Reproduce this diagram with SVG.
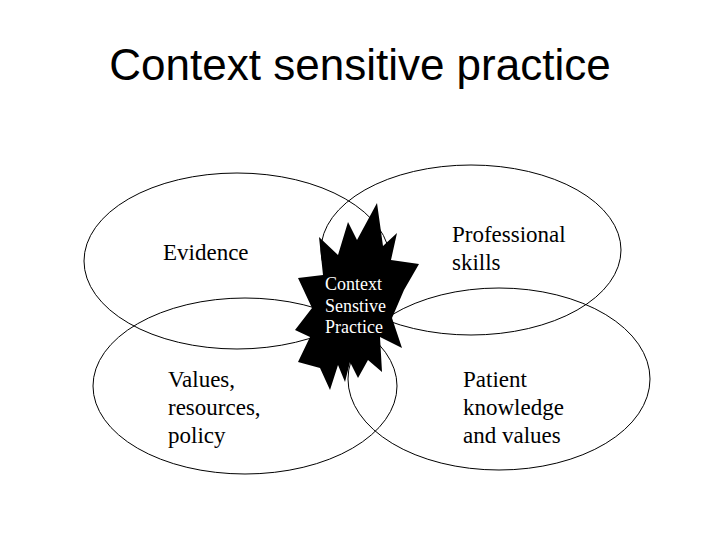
<svg xmlns="http://www.w3.org/2000/svg" width="720" height="540" viewBox="0 0 720 540">
<style>
.ring{fill:none;stroke:#000;stroke-width:1}
.lbl{font-family:"Liberation Serif","Times New Roman",serif;font-size:23px;fill:#000}
.star-t{font-family:"Liberation Serif","Times New Roman",serif;font-size:18px;fill:#fff}
.title{font-family:"Liberation Sans",Arial,sans-serif;font-size:44px;fill:#000}
</style>
<rect width="720" height="540" fill="#fff"/>
<text class="title" x="360" y="80" text-anchor="middle">Context sensitive practice</text>
<g id="evidence">
<ellipse class="ring" cx="237" cy="261" rx="153" ry="88"/>
<text class="lbl" x="163" y="260">Evidence</text>
</g>
<g id="professional-skills">
<ellipse class="ring" cx="471" cy="250" rx="150" ry="85"/>
<text class="lbl" x="452" y="242">Professional</text>
<text class="lbl" x="452" y="270">skills</text>
</g>
<g id="values">
<ellipse class="ring" cx="245" cy="386" rx="152" ry="88"/>
<text class="lbl" x="168" y="387">Values,</text>
<text class="lbl" x="168" y="415">resources,</text>
<text class="lbl" x="168" y="443">policy</text>
</g>
<g id="patient">
<ellipse class="ring" cx="499" cy="379" rx="151" ry="91"/>
<text class="lbl" x="463" y="387">Patient</text>
<text class="lbl" x="463" y="415">knowledge</text>
<text class="lbl" x="463" y="443">and values</text>
</g>
<g id="context-sensitive-practice">
<polygon fill="#000" points="377,203 383,246 397,233 391,260 419,264 404,290 392,318 402,348 380,337 382,372 368,360 358,378 350,362 345,382 338,365 330,390 320,368 298,362 310,337 295,330 312,308 298,278 323,275 319,237 338,255 348,222 357,240"/>
<text class="star-t" x="325" y="290">Context</text>
<text class="star-t" x="325" y="312">Senstive</text>
<text class="star-t" x="325" y="333">Practice</text>
</g>
<g id="connectors"></g>
</svg>
